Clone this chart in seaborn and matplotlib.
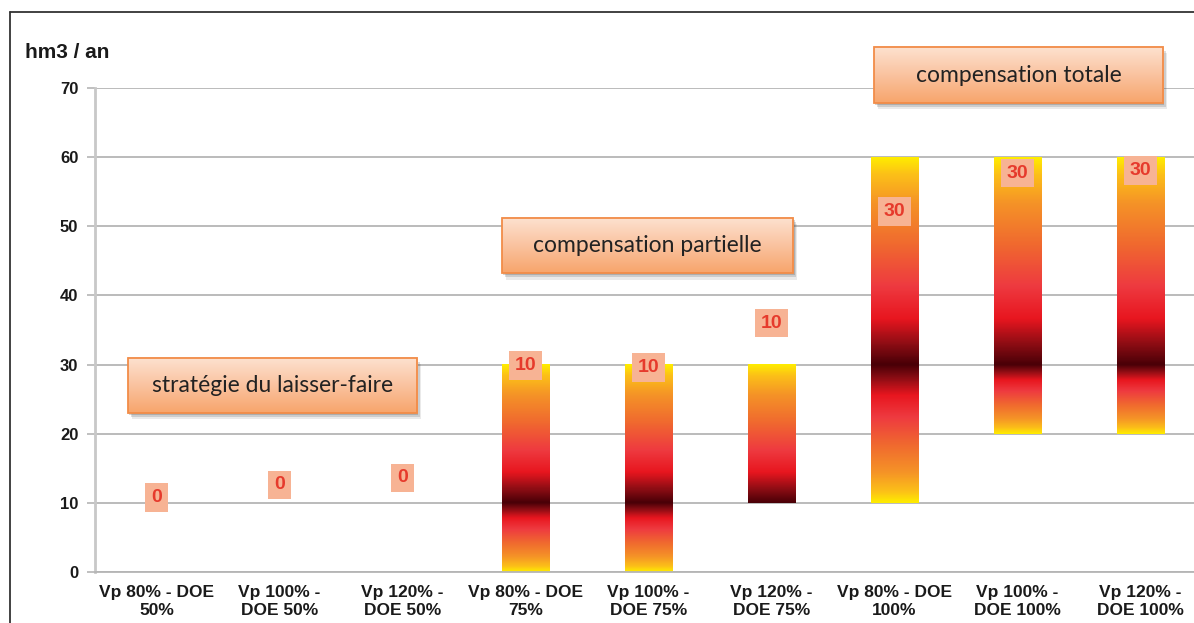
import numpy as np
import pandas as pd
import matplotlib
matplotlib.use("Agg")
import matplotlib.pyplot as plt
import seaborn as sns
from matplotlib.colors import LinearSegmentedColormap
from matplotlib.patches import Rectangle
from matplotlib.lines import Line2D

# Data
categories = [
    "Vp 80% - DOE\n50%", "Vp 100% -\nDOE 50%", "Vp 120% -\nDOE 50%",
    "Vp 80% - DOE\n75%", "Vp 100% -\nDOE 75%", "Vp 120% -\nDOE 75%",
    "Vp 80% - DOE\n100%", "Vp 100% -\nDOE 100%", "Vp 120% -\nDOE 100%",
]
low = [0, 0, 0, 0, 0, 10, 10, 20, 20]
high = [0, 0, 0, 30, 30, 30, 60, 60, 60]
central = [0, 0, 0, 10, 10, 10, 30, 30, 30]
value_labels = ["0", "0", "0", "10", "10", "10", "30", "30", "30"]
strategies = ["stratégie du laisser-faire", "compensation partielle", "compensation totale"]
y_ticks = [0, 10, 20, 30, 40, 50, 60, 70]
y_title = "hm3 / an"

df = pd.DataFrame({"cat": categories, "low": low, "high": high, "central": central})
df["span"] = df["high"] - df["low"]

sns.set_style("white")
plt.rcParams["font.family"] = ["Liberation Sans", "DejaVu Sans"]

# gradient: 0 = central value (dark), 1 = bar end (yellow)
grad = LinearSegmentedColormap.from_list("heat", [
    (0.0, "#4a0007"),
    (0.10, "#8e0d14"),
    (0.22, "#e8161f"),
    (0.38, "#ee3a40"),
    (0.58, "#f0692f"),
    (0.78, "#f59327"),
    (0.92, "#fcc018"),
    (1.0, "#ffec00"),
])

fig = plt.figure(figsize=(11.94, 6.23), dpi=100)
ax = fig.add_axes([95 / 1194, 51 / 623, 1107 / 1194, 484 / 623])

sns.barplot(data=df, x="cat", y="span", width=0.39, color="white", ax=ax, zorder=2)

# move bars to float between low and high, fill with the heat gradient
for patch, lo, hi, ce in zip(ax.patches, df["low"], df["high"], df["central"]):
    patch.set_y(lo)
    patch.set_height(hi - lo)
    patch.set_facecolor("none")
    patch.set_edgecolor("none")
    if hi == lo:
        continue
    ys = np.linspace(lo, hi, 400)
    t = np.where(ys >= ce,
                 (ys - ce) / max(hi - ce, 1e-9),
                 (ce - ys) / max(ce - lo, 1e-9))
    x0 = patch.get_x()
    x1 = x0 + patch.get_width()
    ax.imshow(t[:, None], cmap=grad, vmin=0, vmax=1, origin="lower",
              extent=[x0, x1, lo, hi], aspect="auto", interpolation="bilinear",
              zorder=2)

# value labels
label_y = [10.8, 12.6, 13.6, 29.9, 29.6, 36.0, 52.1, 57.7, 58.1]
for i, (lab, yy) in enumerate(zip(value_labels, label_y)):
    ax.text(i, yy, lab, ha="center", va="center", fontsize=14, weight="bold",
            color="#e63a2c", zorder=5,
            bbox=dict(boxstyle="square,pad=0.3", fc="#f7b394", ec="none"))

# strategy boxes
box_ext = [(-0.232, 2.118, 23.0, 31.0), (2.809, 5.175, 43.2, 51.2), (5.833, 8.183, 67.8, 75.9)]
box_grad = LinearSegmentedColormap.from_list("peach", ["#f7a56c", "#fac3a0", "#fde2d0"])
for txt, (bx0, bx1, by0, by1) in zip(strategies, box_ext):
    for k, a in [(1, 0.25), (2, 0.2), (3, 0.12)]:
        ax.add_patch(Rectangle((bx0 + 0.012 * k, by0 - 0.3 * k), bx1 - bx0, by1 - by0,
                               fc="#555555", ec="none", alpha=a, zorder=6, clip_on=False))
    ax.imshow(np.linspace(0, 1, 100)[:, None], cmap=box_grad, origin="lower",
              extent=[bx0, bx1, by0, by1], aspect="auto", zorder=7, clip_on=False)
    ax.add_patch(Rectangle((bx0, by0), bx1 - bx0, by1 - by0, fc="none", ec="#f28c48",
                           lw=1.3, zorder=8, clip_on=False))
    ax.text((bx0 + bx1) / 2, (by0 + by1) / 2, txt, ha="center", va="center",
            fontsize=16.5, family=["Lato", "DejaVu Sans"], color="#222222", zorder=9,
            clip_on=False)

ax.set_xlim(-0.5, 8.5)
ax.set_ylim(0, 70)
ax.set_yticks(y_ticks)
ax.set_xticks(np.arange(0.5, 8.5, 1), minor=True)
ax.grid(axis="y", color="#b5b5b5", lw=1.3, zorder=0)
ax.set_axisbelow(True)
ax.set_xlabel("")
ax.set_ylabel("")
sns.despine(ax=ax)
ax.spines["left"].set_color("#c8c8c8")
ax.spines["left"].set_linewidth(2)
ax.spines["bottom"].set_color("#b5b5b5")
ax.spines["bottom"].set_linewidth(1.3)
ax.tick_params(axis="x", which="major", length=0, pad=9, labelsize=12.5, labelcolor="#1a1a1a")
ax.tick_params(axis="x", which="minor", length=6, width=1.2, color="#b5b5b5", direction="out")
ax.tick_params(axis="y", length=6, width=1.2, color="#b5b5b5", pad=6, labelsize=12,
               labelcolor="#1a1a1a", left=True)
for lab in ax.get_xticklabels() + ax.get_yticklabels():
    lab.set_fontweight("bold")
    lab.set_linespacing(1.3)

fig.text(25 / 1194, 1 - 53 / 623, y_title, ha="left", va="center", fontsize=15,
         weight="bold", color="#1a1a1a")

# outer frame (top and left edges)
fig.add_artist(Line2D([10 / 1194, 1], [1 - 12 / 623] * 2, transform=fig.transFigure,
                      color="#333333", lw=1.3))
fig.add_artist(Line2D([10 / 1194] * 2, [0, 1 - 12 / 623], transform=fig.transFigure,
                      color="#333333", lw=1.3))

fig.savefig("out.png", dpi=100)
